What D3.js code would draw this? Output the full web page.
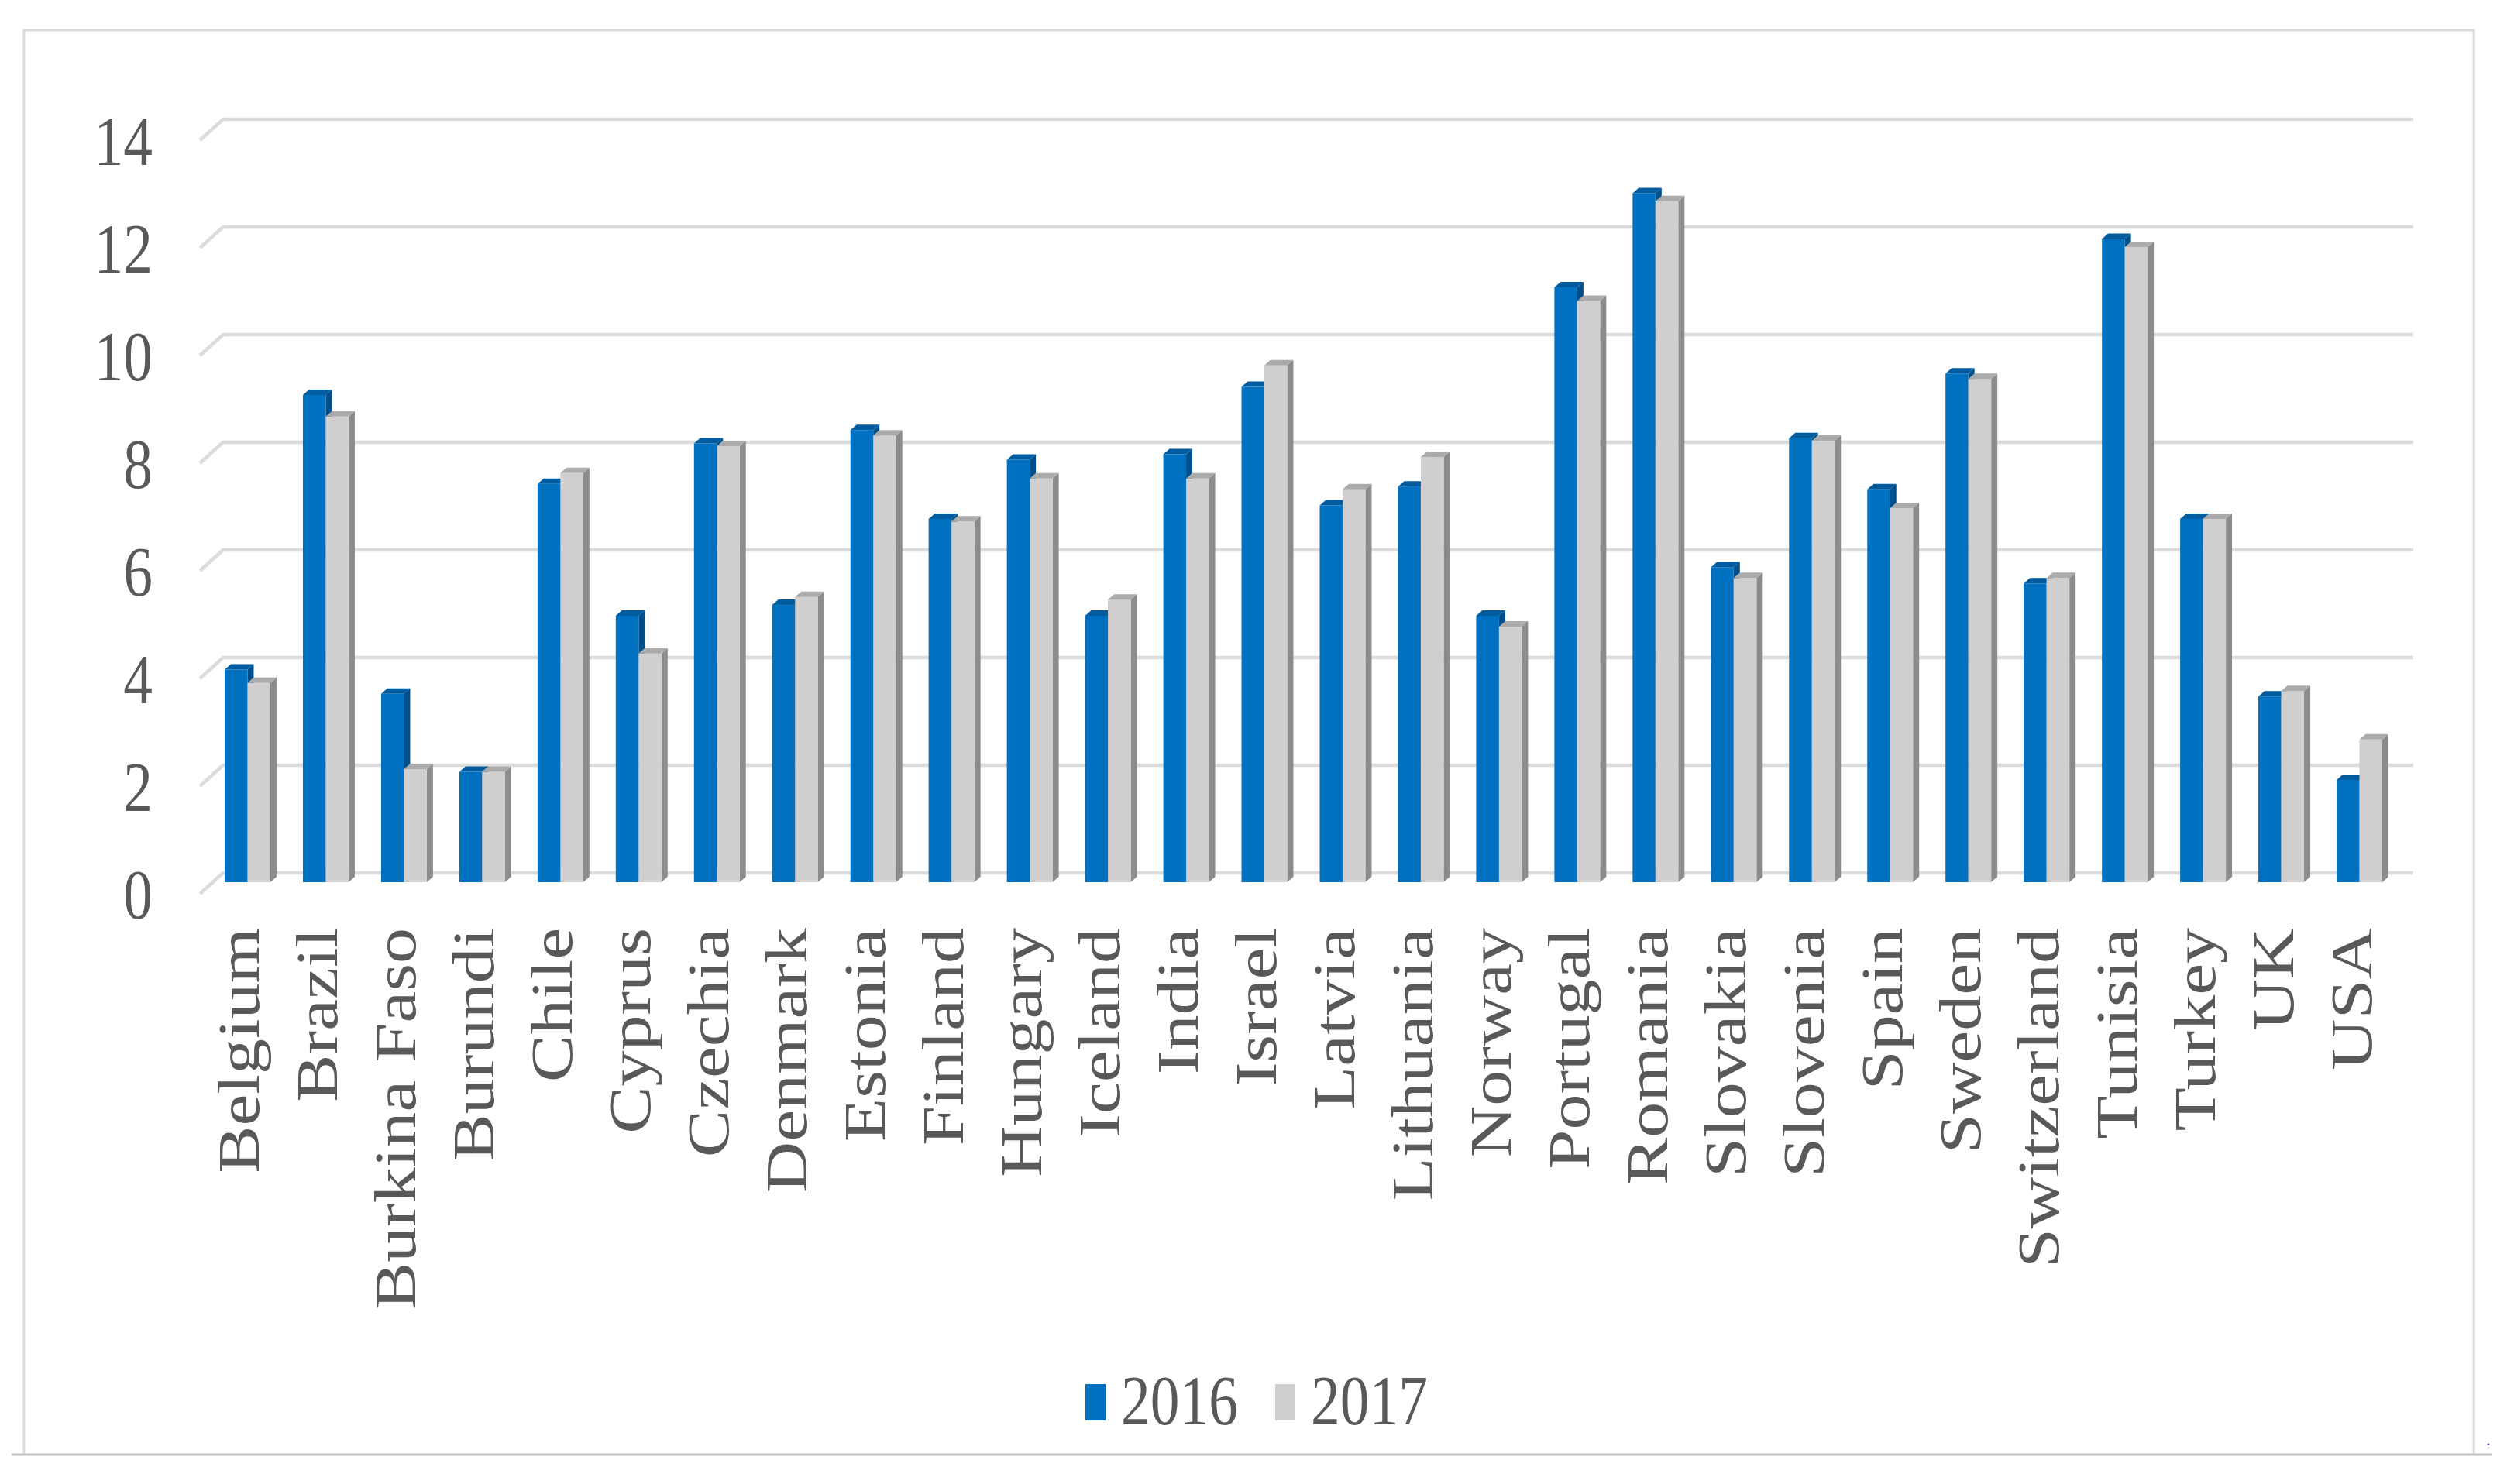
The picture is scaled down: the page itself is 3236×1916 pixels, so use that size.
<!DOCTYPE html>
<html>
<head>
<meta charset="utf-8">
<script src="https://cdn.jsdelivr.net/npm/d3@7"></script>
<style>
  html, body { margin: 0; padding: 0; background: #ffffff; }
  svg { display: block; }
  text { font-family: "Liberation Serif", "DejaVu Serif", serif; fill: #595959; }
</style>
</head>
<body>
<svg id="chart" width="3236" height="1916"></svg>
<script>
// ---------- data ----------
const categories = ["Belgium","Brazil","Burkina Faso","Burundi","Chile","Cyprus","Czechia","Denmark","Estonia","Finland","Hungary","Iceland","India","Israel","Latvia","Lithuania","Norway","Portugal","Romania","Slovakia","Slovenia","Spain","Sweden","Switzerland","Tunisia","Turkey","UK","USA"];
const values2016 = [3.95,9.05,3.5,2.05,7.4,4.95,8.15,5.15,8.4,6.75,7.85,4.95,7.95,9.2,7.0,7.35,4.95,11.05,12.8,5.85,8.25,7.3,9.45,5.55,11.95,6.75,3.45,1.9];
const values2017 = [3.7,8.65,2.1,2.05,7.6,4.25,8.1,5.3,8.3,6.7,7.5,5.25,7.5,9.6,7.3,7.9,4.75,10.8,12.65,5.65,8.2,6.95,9.35,5.65,11.8,6.75,3.55,2.65];
const seriesNames = ["2016","2017"];
const yTicks = [0,2,4,6,8,10,12,14];

// ---------- layout ----------
const svg = d3.select("#chart");
const W = 3236, H = 1916;
const squash = 0.82;          // horizontal text compression seen in the picture
const fontSize = 92;

const backLeft = 288, backRight = 3115;   // back wall extent
const floorDx = -30, floorDy = 27;        // floor depth (back -> front)
const faceDx = -13, faceDy = 12;          // bar front face offset from back wall
const depthDx = 8, depthDy = -7;          // bar depth (front -> back)

const palette = {
  "2016": { front: "#0070C0", top: "#005C9E", side: "#004F8A" },
  "2017": { front: "#D0CECE", top: "#ABABAB", side: "#8C8C8C" }
};

const y = d3.scaleLinear().domain([0, 14]).range([1127, 154]);
const x = d3.scaleBand().domain(categories).range([282, 3109]).paddingInner(0.416).paddingOuter(0.208);
const xs = d3.scaleBand().domain(seriesNames).range([0, x.bandwidth()]).padding(0);

// ---------- frame ----------
svg.append("rect").attr("x", 0).attr("y", 0).attr("width", W).attr("height", H).attr("fill", "#ffffff");
svg.append("path")
  .attr("d", `M31,1878 L31,39 L3193,39 L3193,1878`)
  .attr("fill", "none").attr("stroke", "#dadada").attr("stroke-width", 3);
svg.append("line").attr("x1", 15).attr("x2", 3216).attr("y1", 1878).attr("y2", 1878)
  .attr("stroke", "#c4c4c4").attr("stroke-width", 3);
svg.append("text").attr("x", 3209).attr("y", 1866).text(".")
  .style("fill", "#2a2aff").style("font-size", "22px");

// ---------- gridlines (back wall + floor diagonal) ----------
const grid = svg.append("g");
grid.selectAll("path.grid").data(yTicks).join("path")
  .attr("class", "grid")
  .attr("d", d => `M${backLeft + floorDx},${y(d) + floorDy} L${backLeft},${y(d)} L${backRight},${y(d)}`)
  .attr("fill", "none").attr("stroke", "#dcdcdc").attr("stroke-width", 4.5)
  .attr("stroke-linejoin", "round");

// ---------- y labels ----------
svg.append("g").selectAll("text").data(yTicks).join("text")
  .attr("transform", d => `translate(197,${y(d) + floorDy}) scale(${squash},1)`)
  .attr("text-anchor", "end").attr("dy", "0.35em")
  .style("font-size", fontSize + "px")
  .text(d => d);

// ---------- bars ----------
const rows = categories.map((c, i) => ({ cat: c, vals: [
  { s: "2016", v: values2016[i] }, { s: "2017", v: values2017[i] } ] }));

const bars = svg.append("g");
rows.forEach(r => {
  const g = bars.append("g");
  r.vals.forEach(d => {
    const w = xs.bandwidth();
    const x0 = x(r.cat) + xs(d.s) + faceDx;
    const yt = y(d.v) + faceDy;
    const yb = y(0) + faceDy;
    const col = palette[d.s];
    // side face
    g.append("path")
      .attr("d", `M${x0 + w},${yt} L${x0 + w + depthDx},${yt + depthDy} L${x0 + w + depthDx},${yb + depthDy} L${x0 + w},${yb} Z`)
      .attr("fill", col.side);
    // front face
    g.append("rect").attr("x", x0).attr("y", yt).attr("width", w).attr("height", yb - yt)
      .attr("fill", col.front);
    // top face
    g.append("path")
      .attr("d", `M${x0},${yt} L${x0 + w},${yt} L${x0 + w + depthDx},${yt + depthDy} L${x0 + depthDx},${yt + depthDy} Z`)
      .attr("fill", col.top);
  });
});

// ---------- category labels ----------
svg.append("g").selectAll("text").data(categories).join("text")
  .attr("transform", d => `translate(${x(d) + x.bandwidth() / 2 + 2},1198) scale(${squash},1) rotate(-90)`)
  .attr("text-anchor", "end")
  .style("font-size", fontSize + "px")
  .text(d => d);

// ---------- legend ----------
const legendX = [1401, 1646];
const leg = svg.append("g").selectAll("g").data(seriesNames).join("g")
  .attr("transform", (d, i) => `translate(${legendX[i]},0)`);
leg.append("rect").attr("x", 0).attr("y", 1787).attr("width", 26).attr("height", 47)
  .attr("fill", d => palette[d].front);
leg.append("text")
  .attr("transform", `translate(46,1839) scale(${squash},1)`)
  .style("font-size", fontSize + "px")
  .text(d => d);
</script>
</body>
</html>
